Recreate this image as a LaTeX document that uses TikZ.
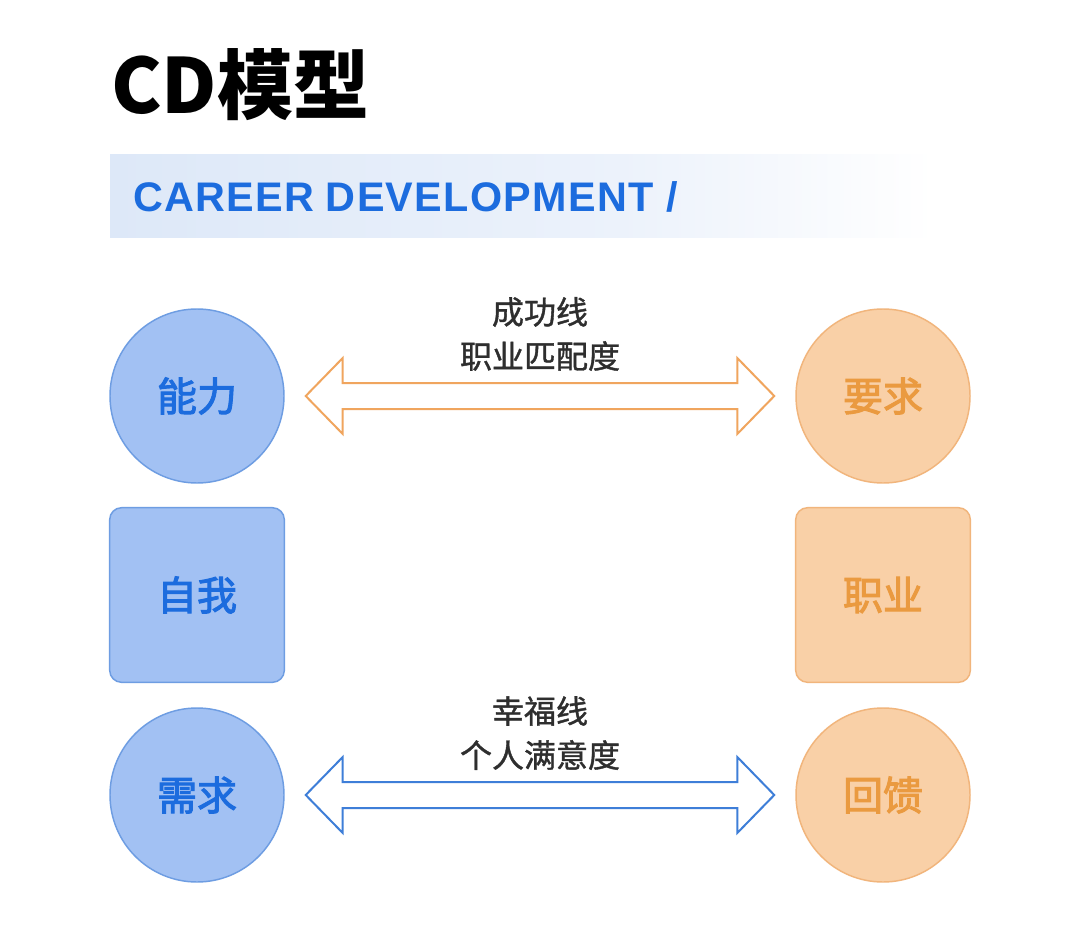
\documentclass[tikz,border=0pt]{standalone}
\usepackage{fontspec}
\setmainfont{Liberation Sans}
\newfontfamily\cjk{Noto Sans CJK SC}
\newfontfamily\cjkmid[FakeBold=2.5]{Noto Sans CJK SC}
\newfontfamily\cjklab[FakeBold=1.2]{Noto Sans CJK SC}
\usepackage{tikz}
\usetikzlibrary{calc}

\definecolor{bfill}{HTML}{A2C1F3}
\definecolor{bline}{HTML}{6E9DE2}
\definecolor{btext}{HTML}{1C6CDE}
\definecolor{ofill}{HTML}{F9D0A7}
\definecolor{oline}{HTML}{F1B57C}
\definecolor{otext}{HTML}{EA9A40}
\definecolor{oarrow}{HTML}{F0A55E}
\definecolor{barrow}{HTML}{3E7ED8}
\definecolor{bannerL}{HTML}{DDE8F8}
\definecolor{bannerM}{HTML}{ECF2FB}
\definecolor{ttext}{HTML}{2E2E2E}

\tikzset{
  bluecircle/.style={circle, draw=bline, fill=bfill, line width=1.1pt, minimum size=130.5pt, inner sep=0pt, text=btext, font=\cjkmid\fontsize{30}{32}\selectfont},
  orangecircle/.style={bluecircle, draw=oline, fill=ofill, text=otext},
  bluebox/.style={rectangle, rounded corners=9pt, draw=bline, fill=bfill, line width=1.1pt, minimum size=131pt, inner sep=0pt, text=btext, font=\cjkmid\fontsize{30}{32}\selectfont},
  orangebox/.style={bluebox, draw=oline, fill=ofill, text=otext},
  linelabel/.style={inner sep=0.75pt, text=ttext, font=\cjklab\fontsize{24}{26}\selectfont},
  fatarrow/.style={line width=1.5pt, fill=white, line join=miter}
}

\begin{document}
\begin{tikzpicture}[x=0.75pt,y=0.75pt,yscale=-1,xscale=1]
\useasboundingbox (0,0) rectangle (1080,948);
\fill[white] (0,0) rectangle (1080,948);
% Title
\node [anchor=west, inner sep=0pt, font=\cjk\bfseries\fontsize{57}{60}\selectfont] (title) at (111,85) {CD模型};
% Banner
\shade[left color=bannerL, right color=bannerM] (110,155) rectangle (620,238);
\shade[left color=bannerM, right color=white] (620,155) rectangle (935,238);
\node [anchor=west, inner sep=0pt, text=btext, font=\bfseries\fontsize{31}{34}\selectfont] (banner) at (133,197) {C\kern1pt A\kern1pt R\kern1pt E\kern1pt E\kern1pt R D\kern1pt E\kern1pt V\kern1pt E\kern1pt L\kern1pt O\kern1pt P\kern1pt M\kern1pt E\kern1pt N\kern1pt T\kern1pt\ /};

%Shape: Circle
\node [bluecircle] (nengli) at (197,396) {能力};
%Shape: Rectangle
\node [bluebox] (ziwo) at (197,595) {自我};
%Shape: Circle
\node [bluecircle] (xuqiu) at (197,795) {需求};
%Shape: Circle
\node [orangecircle] (yaoqiu) at (883,396) {要求};
%Shape: Rectangle
\node [orangebox] (zhiye) at (883,595) {职业};
%Shape: Circle
\node [orangecircle] (huikui) at (883,795) {回馈};

% Arrow ends
\coordinate (s1) at ($(nengli.east)+(21,0)$);
\coordinate (s2) at ($(yaoqiu.west)+(-21,0)$);
\coordinate (h1) at ($(xuqiu.east)+(21,0)$);
\coordinate (h2) at ($(huikui.west)+(-21,0)$);

%Double Arrow
\draw [fatarrow, draw=oarrow] (s1) -- ++(37,-38) -- ++(0,25) -- ($(s2)+(-37,-13)$) -- ++(0,-25) -- (s2) -- ++(-37,38) -- ++(0,-25) -- ($(s1)+(37,13)$) -- ++(0,25) -- cycle;
%Double Arrow
\draw [fatarrow, draw=barrow] (h1) -- ++(37,-38) -- ++(0,25) -- ($(h2)+(-37,-13)$) -- ++(0,-25) -- (h2) -- ++(-37,38) -- ++(0,-25) -- ($(h1)+(37,13)$) -- ++(0,25) -- cycle;

% Text Node
\node [linelabel] (cgx) at (540,312) {成功线};
% Text Node
\node [linelabel] (ppd) at (540,356) {职业匹配度};
% Text Node
\node [linelabel] (xfx) at (540,711) {幸福线};
% Text Node
\node [linelabel] (myd) at (540,755) {个人满意度};
\end{tikzpicture}
\end{document}
